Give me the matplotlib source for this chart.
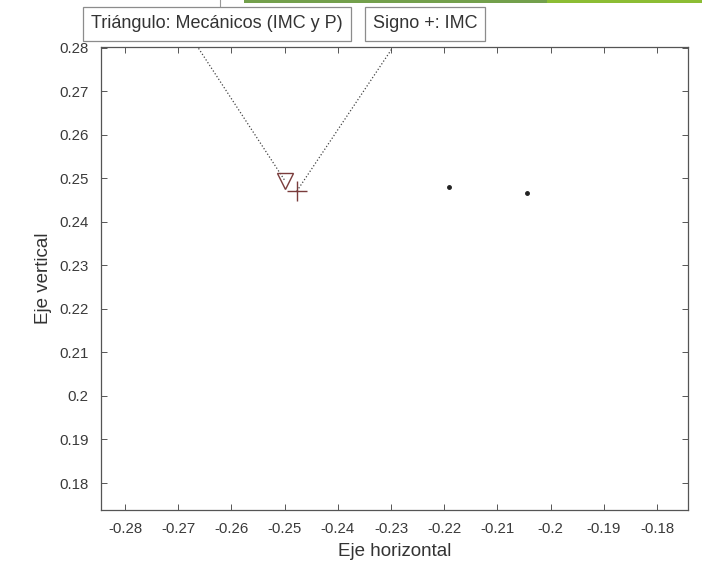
import matplotlib
matplotlib.use("Agg")
import matplotlib.pyplot as plt
from matplotlib.patches import Rectangle
from matplotlib.lines import Line2D

plt.rcParams['font.family'] = ['Liberation Sans', 'DejaVu Sans']
plt.rcParams['axes.unicode_minus'] = False

# data
tri_x = [-0.2499]
tri_y = [0.2494]
plus_x = [-0.2477]
plus_y = [0.2471]
dots_x = [-0.2191, -0.2044]
dots_y = [0.2481, 0.2467]
left_line_x = [-0.2689, -0.2499]
left_line_y = [0.2850, 0.2494]
right_line_x = [-0.2477, -0.2270]
right_line_y = [0.2471, 0.2850]

xticks = [-0.28, -0.27, -0.26, -0.25, -0.24, -0.23, -0.22, -0.21, -0.2, -0.19, -0.18]
xlabels = ['-0.28', '-0.27', '-0.26', '-0.25', '-0.24', '-0.23', '-0.22', '-0.21', '-0.2', '-0.19', '-0.18']
yticks = [0.18, 0.19, 0.2, 0.21, 0.22, 0.23, 0.24, 0.25, 0.26, 0.27, 0.28]
ylabels = ['0.18', '0.19', '0.2', '0.21', '0.22', '0.23', '0.24', '0.25', '0.26', '0.27', '0.28']

fig = plt.figure(figsize=(7.05, 5.70), dpi=100)
ax = fig.add_axes([0.1433, 0.1053, 0.8326, 0.8122])

ax.plot(left_line_x, left_line_y, ':', color='#444444', lw=0.9)
ax.plot(right_line_x, right_line_y, ':', color='#444444', lw=0.9)
ax.plot(tri_x, tri_y, 'v', mfc='none', mec='#7a3c3c', ms=11, mew=1.0)
ax.plot(plus_x, plus_y, '+', color='#7a3c3c', ms=14, mew=1.0)
ax.plot(dots_x, dots_y, '.', color='#222222', ms=5)

ax.set_xlim(-0.2845, -0.1742)
ax.set_ylim(0.1738, 0.2802)
ax.set_xticks(xticks)
ax.set_xticklabels(xlabels)
ax.set_yticks(yticks)
ax.set_yticklabels(ylabels)
ax.tick_params(direction='in', length=4, width=0.7, colors='#555555',
               labelcolor='#3a3a3a', labelsize=10.8, top=True, right=True, pad=9)
for s in ax.spines.values():
    s.set_color('#555555')
    s.set_linewidth(0.9)

ax.set_xlabel('Eje horizontal', fontsize=13.5, color='#333333', labelpad=5)
ax.set_ylabel('Eje vertical', fontsize=13.5, color='#333333', labelpad=5)

# legend-like text boxes above the axes
box = dict(boxstyle='square,pad=0.45', fc='white', ec='#8c8c8c', lw=0.9)
fig.text(217 / 705, 1 - 24 / 570, 'Triángulo: Mecánicos (IMC y P)', ha='center', va='center',
         fontsize=13, color='#333333', bbox=box)
fig.text(425 / 705, 1 - 24 / 570, 'Signo +: IMC', ha='center', va='center',
         fontsize=13, color='#333333', bbox=box)

# green bar cut off at the top edge of the screenshot
fig.patches.append(Rectangle((244 / 705, 1 - 3 / 570), 303 / 705, 3 / 570,
                             transform=fig.transFigure, fc='#73a04c', ec='none'))
fig.patches.append(Rectangle((547 / 705, 1 - 3 / 570), 155 / 705, 3 / 570,
                             transform=fig.transFigure, fc='#8cbd34', ec='none'))
fig.lines.append(Line2D([220 / 705, 220 / 705], [1, 1 - 6 / 570],
                        transform=fig.transFigure, color='#999999', lw=0.8))

fig.savefig('out.png', dpi=100)
